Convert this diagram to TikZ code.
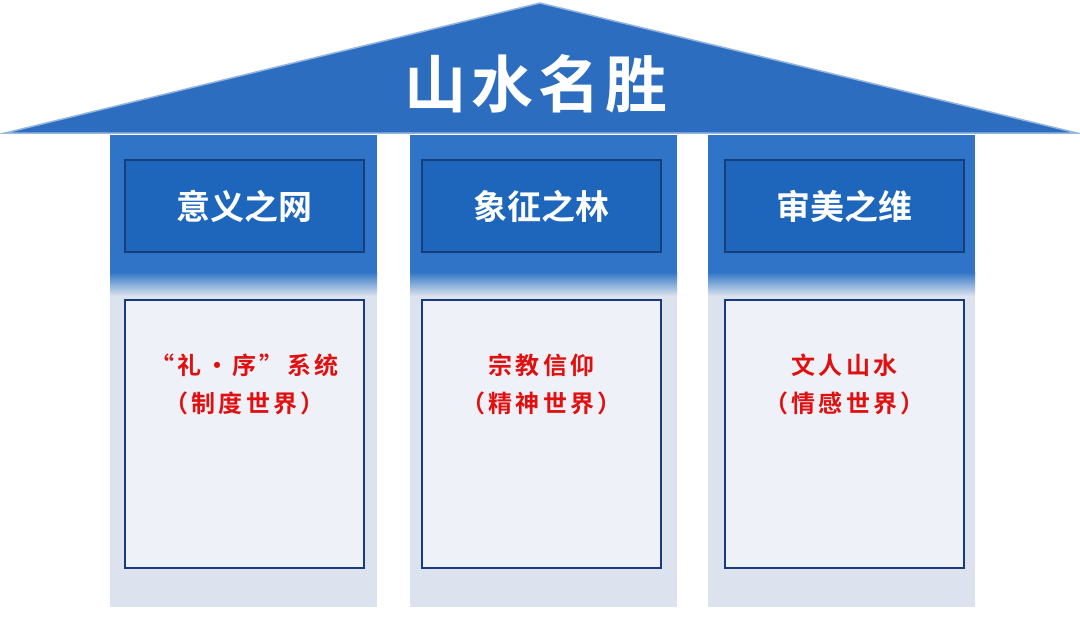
\documentclass[tikz,border=0pt]{standalone}
\usepackage{fontspec}
\newfontfamily\cjkb[LetterSpace=8]{Noto Sans CJK SC Bold}
\newfontfamily\cjkh{Noto Sans CJK SC Bold}
\newfontfamily\cjkr[LetterSpace=14]{Noto Sans CJK SC Bold}
\definecolor{roof}{HTML}{2C6DC0}
\definecolor{pil}{HTML}{2F74C6}
\definecolor{hdr}{HTML}{1E66BC}
\definecolor{hbd}{HTML}{143F7C}
\definecolor{low}{HTML}{DCE3EE}
\definecolor{inn}{HTML}{EEF1F7}
\definecolor{ibd}{HTML}{1A3A80}
\definecolor{red}{HTML}{E01010}
\tikzset{
 hdrbox/.style={draw=hbd,line width=2pt,fill=hdr,minimum width=239pt,minimum height=92pt,text=white,font=\cjkh\fontsize{34}{40}\selectfont},
 innbox/.style={draw=ibd,line width=1.6pt,fill=inn,minimum width=239pt,minimum height=268pt},
 redtxt/.style={text=red,font=\cjkr\fontsize{24}{38}\selectfont,align=center}
}
\begin{document}
\begin{tikzpicture}[x=1pt,y=-1pt]
\useasboundingbox (0,0) rectangle (1080,625);
\fill[white] (0,0) rectangle (1080,625);
\foreach \x/\n in {110/a,410/b,708/c}{
 \fill[low] (\x,135) rectangle ++(267,472);
 \shade[top color=pil,bottom color=low] (\x,272) rectangle ++(267,24);
 \fill[pil] (\x,135) rectangle ++(267,138);
}
\draw[fill=roof,draw=roof!50,line width=1.5pt] (5,133) -- (540,3) -- (1077,133) -- cycle;
\node (title) [text=white,font=\cjkb\fontsize{62}{70}\selectfont] at (536,84) {山水名胜};
\node (h1) [hdrbox] at (244.5,206) {意义之网};
\node (h2) [hdrbox] at (541.5,206) {象征之林};
\node (h3) [hdrbox] at (844.5,206) {审美之维};
\node (i1) [innbox] at (244.5,434) {};
\node (i2) [innbox] at (541.5,434) {};
\node (i3) [innbox] at (844.5,434) {};
\node (t1) [redtxt] at (244.5,384) {“礼·序”系统\\（制度世界）};
\node (t2) [redtxt] at (541.5,384) {宗教信仰\\（精神世界）};
\node (t3) [redtxt] at (844.5,384) {文人山水\\（情感世界）};
\end{tikzpicture}
\end{document}
